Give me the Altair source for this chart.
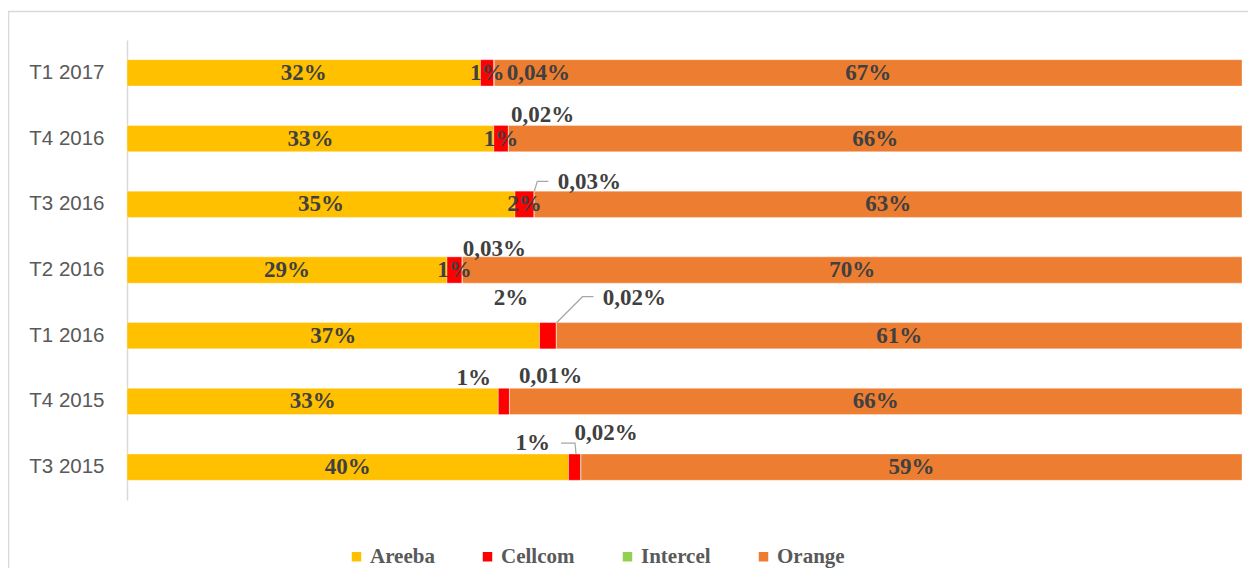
import altair as alt
import pandas as pd

periods = ["T1 2017", "T4 2016", "T3 2016", "T2 2016", "T1 2016", "T4 2015", "T3 2015"]
series = ["Areeba", "Cellcom", "Intercel", "Orange"]
colors = ["#FFC000", "#FF0000", "#92D050", "#ED7D31"]

areeba = [31.7, 32.9, 34.8, 28.7, 37.0, 33.3, 39.6]
cellcom = [1.2, 1.3, 1.7, 1.35, 1.5, 1.0, 1.1]
intercel = [0.04, 0.02, 0.03, 0.03, 0.02, 0.01, 0.02]
orange = [67.06, 65.78, 63.47, 69.92, 61.48, 65.69, 59.28]

areeba_lbl = ["32%", "33%", "35%", "29%", "37%", "33%", "40%"]
cellcom_lbl = ["1%", "1%", "2%", "1%", "2%", "1%", "1%"]
intercel_lbl = ["0,04%", "0,02%", "0,03%", "0,03%", "0,02%", "0,01%", "0,02%"]
orange_lbl = ["67%", "66%", "63%", "70%", "61%", "66%", "59%"]

# label placement offsets (pixels) for the small segments
cellcom_dx = [0, 0, 0, 0, -37, -30, -42]
cellcom_dy = [0, 0, 0, 0, -38, -23, -24]
intercel_dx = [44, 34, 55, 32, 78, 41, 25]
intercel_dy = [0, -24, -22, -21, -38, -25, -34]

# leader lines for moved Intercel labels: (period, pixel offsets from segment end)
leader_periods = ["T3 2016", "T1 2016", "T3 2015"]
leader_dx = [[0, 3, 14], [0, 26, 37], [-5, -6, -20]]
leader_dy = [[-13, -23, -23], [-13, -39, -39], [-13, -24, -24]]

PLOT_W = 1115
PLOT_H = 460
PAD_INNER = 0.6
PAD_OUTER = 0.3
STEP = PLOT_H / (len(periods) - PAD_INNER + 2 * PAD_OUTER)
HALF_BAND = STEP * (1 - PAD_INNER) / 2

rows = []
vals = [areeba, cellcom, intercel, orange]
lbls = [areeba_lbl, cellcom_lbl, intercel_lbl, orange_lbl]
for i, p in enumerate(periods):
    for j, s in enumerate(series):
        dx, dy, anchor = 0, 0, "mid"
        if s == "Cellcom":
            dx, dy = cellcom_dx[i], cellcom_dy[i]
        if s == "Intercel":
            dx, dy, anchor = intercel_dx[i], intercel_dy[i], "end"
        rows.append({"period": p, "series": s, "order": j, "value": vals[j][i],
                     "label": lbls[j][i], "dx": dx, "dy": dy + HALF_BAND,
                     "anchor": anchor})
df = pd.DataFrame(rows)

lrows = []
for k, p in enumerate(leader_periods):
    i = periods.index(p)
    end = areeba[i] + cellcom[i] + intercel[i]
    for n in range(3):
        lrows.append({"period": p, "id": k, "n": n,
                      "x": end + leader_dx[k][n] * 100 / PLOT_W,
                      "dy": leader_dy[k][n] + HALF_BAND})
ldf = pd.DataFrame(lrows)

xscale = alt.Scale(domain=[0, 100], nice=False, zero=True)
yscale = alt.Scale(paddingInner=PAD_INNER, paddingOuter=PAD_OUTER)

base = alt.Chart(df)

bars = base.mark_bar(stroke="white", strokeWidth=0.6, strokeOpacity=0.6).encode(
    x=alt.X("value:Q", stack="zero", scale=xscale, axis=None),
    y=alt.Y("period:N", sort=periods, scale=yscale,
            axis=alt.Axis(title=None, ticks=False, tickSize=0, labelPadding=23,
                          domainColor="#D9D9D9", domainWidth=1.5, grid=False,
                          labelFont="Liberation Sans", labelFontSize=20.5,
                          labelColor="#595959")),
    color=alt.Color("series:N", sort=series,
                    scale=alt.Scale(domain=series, range=colors),
                    legend=alt.Legend(title=None, orient="none", legendX=219, legendY=506,
                                      direction="horizontal", columns=4,
                                      symbolType="square", symbolSize=90,
                                      symbolStrokeWidth=0, labelOffset=3,
                                      columnPadding=42,
                                      labelFont="Liberation Serif",
                                      labelFontWeight="bold", labelFontSize=21,
                                      labelColor="#595959")),
    order=alt.Order("order:Q", sort="ascending"),
)

texts = base.transform_stack(
    stack="value", groupby=["period"], as_=["s0", "s1"],
    sort=[alt.SortField("order", order="ascending")]
).transform_calculate(
    xpos=f"(datum.anchor == 'end' ? datum.s1 : (datum.s0 + datum.s1) / 2) + datum.dx * 100 / {PLOT_W}"
).mark_text(font="Liberation Serif", fontWeight="bold", fontSize=23,
            color="#404040", baseline="middle", align="center").encode(
    x=alt.X("xpos:Q", scale=xscale, axis=None),
    y=alt.Y("period:N", sort=periods, scale=yscale),
    yOffset=alt.YOffset("dy:Q", scale=None),
    text="label:N",
)

leaders = alt.Chart(ldf).mark_line(color="#A6A6A6", strokeWidth=1.2).encode(
    x=alt.X("x:Q", scale=xscale, axis=None),
    y=alt.Y("period:N", sort=periods, scale=yscale),
    yOffset=alt.YOffset("dy:Q", scale=None),
    detail="id:N",
    order="n:Q",
)

frame = alt.Chart(alt.Data(values=[{"a": 1}])).mark_rect(
    fill="transparent", stroke="#D9D9D9", strokeWidth=1.5
).encode(x=alt.value(-118.5), x2=alt.value(1150), y=alt.value(-28.5), y2=alt.value(600))

chart = alt.layer(frame, bars, leaders, texts).properties(
    width=PLOT_W, height=PLOT_H,
    autosize=alt.AutoSizeParams(type="none"),
    padding={"left": 119, "top": 32, "right": 6, "bottom": 68},
).configure_view(stroke=None)

chart.save("out.html", embed_options={"renderer": "svg", "actions": False})
